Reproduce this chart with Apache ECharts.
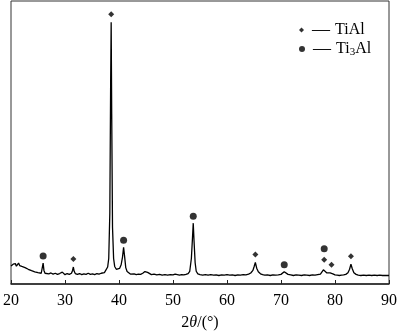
<!DOCTYPE html>
<html>
<head>
<meta charset="utf-8">
<script src="https://cdn.jsdelivr.net/npm/echarts@6/dist/echarts.min.js"></script>
<style>
  html, body { margin: 0; padding: 0; background: #fff; }
  #chart { width: 400px; height: 336px; }
</style>
</head>
<body>
<div id="chart"></div>
<script>
// XRD 图谱 (2θ, 强度) 从图上读出
var twoTheta = [
  20.0, 20.2, 20.4, 20.6, 20.8, 21.0, 21.2, 21.4, 21.6, 21.8, 22.0, 22.3, 22.6, 22.9, 23.2, 23.5, 23.8, 24.1, 24.4, 24.7,
  25.0, 25.3, 25.6, 25.8, 25.95, 26.1, 26.3, 26.6, 27.0, 27.4, 27.8, 28.2, 28.6, 29.0, 29.3, 29.5, 29.7, 30.0, 30.4, 30.8,
  31.2, 31.4, 31.55, 31.7, 31.9, 32.3, 32.7, 33.1, 33.5, 33.9, 34.3, 34.7, 35.1, 35.5, 35.9, 36.3, 36.7, 37.0, 37.3, 37.6,
  37.9, 38.1, 38.3, 38.45, 38.55, 38.65, 38.8, 39.0, 39.2, 39.5, 39.8, 40.1, 40.4, 40.65, 40.85, 41.05, 41.25, 41.5, 41.8, 42.1,
  42.4, 42.8, 43.2, 43.6, 44.0, 44.4, 44.8, 45.0, 45.3, 45.6, 46.0, 46.5, 47.0, 47.5, 48.0, 48.5, 49.0, 49.5, 50.0, 50.4,
  50.8, 51.2, 51.6, 52.0, 52.4, 52.8, 53.1, 53.4, 53.6, 53.75, 53.9, 54.1, 54.3, 54.6, 55.0, 55.5, 56.0, 56.5, 57.0, 57.5,
  58.0, 58.5, 59.0, 59.5, 60.0, 60.5, 61.0, 61.5, 62.0, 62.5, 63.0, 63.5, 64.0, 64.4, 64.8, 65.0, 65.25, 65.5, 65.8, 66.2,
  66.6, 67.0, 67.5, 68.0, 68.5, 69.0, 69.5, 70.0, 70.3, 70.6, 70.9, 71.3, 71.8, 72.3, 72.8, 73.3, 73.8, 74.3, 74.8, 75.3,
  75.8, 76.3, 76.8, 77.3, 77.6, 77.85, 78.0, 78.2, 78.5, 78.8, 79.1, 79.35, 79.6, 80.0, 80.4, 80.8, 81.2, 81.6, 82.0, 82.4,
  82.7, 82.95, 83.2, 83.5, 83.9, 84.3, 84.8, 85.3, 85.8, 86.3, 86.8, 87.3, 87.8, 88.3, 88.8, 89.3, 90.0
];
var intensity = [
  64, 60, 70, 66, 72, 63, 69, 74, 65, 70, 62, 66, 58, 61, 52, 55, 47, 50, 43, 45,
  40, 43, 38, 45, 74, 48, 38, 41, 36, 39, 35, 38, 34, 37, 35, 42, 35, 33, 37, 34,
  38, 48, 60, 45, 37, 34, 37, 33, 36, 34, 38, 34, 36, 33, 37, 35, 38, 36, 40, 46,
  60, 90, 250, 700, 925, 600, 200, 90, 62, 52, 50, 55, 68, 95, 130, 95, 58, 44, 38, 35,
  33, 36, 33, 35, 34, 38, 44, 46, 41, 36, 33, 35, 32, 34, 31, 33, 31, 33, 32, 35,
  33, 31, 33, 32, 34, 37, 45, 90, 160, 215, 150, 75, 45, 36, 33, 31, 33, 31, 33, 31,
  32, 30, 32, 31, 33, 31, 32, 30, 32, 31, 33, 32, 35, 39, 48, 60, 76, 56, 43, 36,
  33, 31, 32, 30, 32, 31, 32, 34, 38, 43, 39, 34, 32, 30, 32, 31, 30, 32, 31, 30,
  32, 31, 33, 35, 40, 50, 57, 47, 39, 37, 39, 40, 36, 32, 31, 30, 31, 32, 34, 40,
  52, 70, 54, 40, 34, 31, 30, 31, 30, 31, 30, 31, 30, 31, 30, 30, 30
];

// 衍射峰标记
var tiAlPeakPos = [31.55, 38.55, 65.25, 78.0, 79.35, 82.95];
var tiAlPeakVal = [60, 925, 76, 57, 40, 70];
var ti3AlPeakPos = [25.95, 40.85, 53.75, 70.6, 78.0];
var ti3AlPeakVal = [74, 130, 215, 43, 57];

var xTicks = [20, 30, 40, 50, 60, 70, 80, 90];

var serif = 'Liberation Serif';

var pattern = twoTheta.map(function (t, i) { return [t, intensity[i]]; });

var tiAlMarks = tiAlPeakPos.map(function (t, i) {
  return { value: [t, tiAlPeakVal[i]], symbolOffset: [0, -8] };
});
var ti3AlMarks = ti3AlPeakPos.map(function (t, i) {
  // 与 TiAl 峰重合时放在菱形上方
  var shared = tiAlPeakPos.indexOf(t) >= 0;
  return { value: [t, ti3AlPeakVal[i]], symbolOffset: [0, shared ? -19 : -7] };
});

var labelRich = {
  d: { fontFamily: serif, fontSize: 18, color: '#000', padding: [0, 5, 0, 3] },
  t: { fontFamily: serif, fontSize: 16, color: '#000' },
  s: { fontFamily: serif, fontSize: 11, color: '#000', padding: [7, 0, 0, 0] }
};

function legendText(name) {
  if (name === 'Ti3Al') return '{d|—}{t|Ti}{s|3}{t|Al}';
  return '{d|—}{t|' + name + '}';
}

var myChart = echarts.init(document.getElementById('chart'));
myChart.setOption({
  animation: false,
  backgroundColor: '#fff',
  grid: {
    left: 7, right: 7, top: 1, bottom: 47,
    show: true, borderColor: '#333', borderWidth: 1
  },
  legend: [
    {
      data: ['TiAl'], left: 294, top: 16, icon: 'diamond',
      itemWidth: 5, itemHeight: 5, formatter: legendText,
      textStyle: { rich: labelRich }
    },
    {
      data: ['Ti3Al'], left: 294, top: 35, icon: 'circle',
      itemWidth: 6, itemHeight: 6, formatter: legendText,
      textStyle: { rich: labelRich }
    }
  ],
  xAxis: {
    type: 'value', min: 20, max: 90, interval: 10,
    name: '2{i|θ}/(°)', nameLocation: 'middle', nameGap: 31,
    nameTextStyle: {
      fontFamily: serif, fontSize: 16, color: '#000',
      rich: { i: { fontFamily: serif, fontSize: 16, fontStyle: 'italic', color: '#000' } }
    },
    axisLine: { lineStyle: { color: '#222', width: 1.5 } },
    axisTick: { inside: true, length: 4, lineStyle: { color: '#222' } },
    axisLabel: {
      fontFamily: serif, fontSize: 16, color: '#000', margin: 9,
      formatter: function (v) { return xTicks.indexOf(v) >= 0 ? String(v) : ''; }
    },
    splitLine: { show: false }
  },
  yAxis: {
    type: 'value', min: 0, max: 1000, show: false
  },
  series: [
    {
      name: 'pattern', type: 'line', data: pattern, showSymbol: false,
      lineStyle: { color: '#000', width: 1.3 }, silent: true
    },
    {
      name: 'TiAl', type: 'scatter', data: tiAlMarks, symbol: 'diamond',
      symbolSize: 6, itemStyle: { color: '#000' }
    },
    {
      name: 'Ti3Al', type: 'scatter', data: ti3AlMarks, symbol: 'circle',
      symbolSize: 7, itemStyle: { color: '#000' }
    }
  ]
});
</script>
</body>
</html>
